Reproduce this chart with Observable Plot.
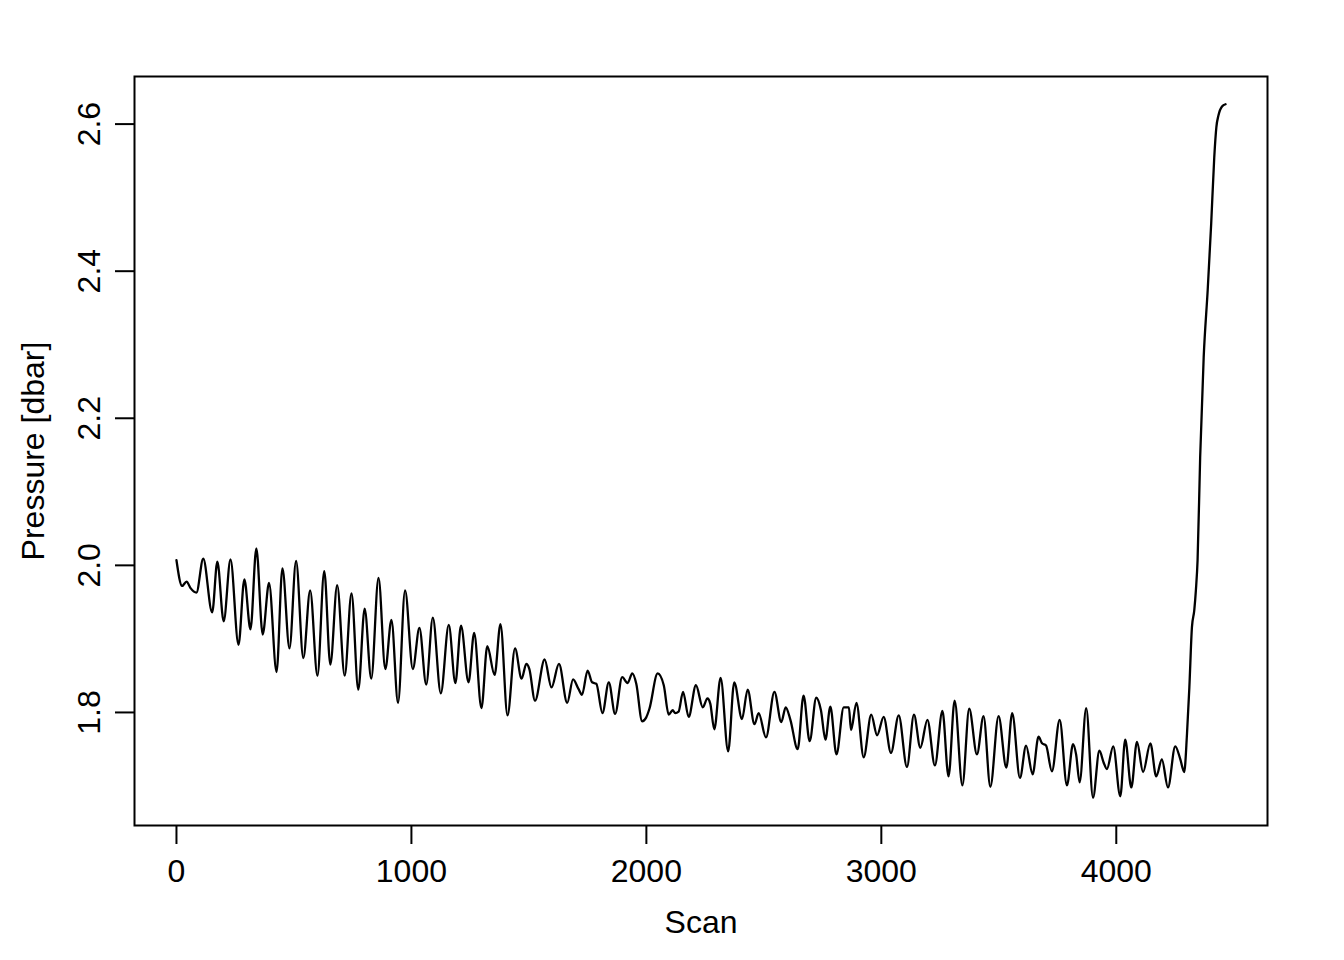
<!DOCTYPE html>
<html>
<head>
<meta charset="utf-8">
<script src="https://cdn.jsdelivr.net/npm/d3@7"></script>
<script src="https://cdn.jsdelivr.net/npm/@observablehq/plot@0.6"></script>
<style>
  html, body { margin: 0; padding: 0; background: #fff; }
</style>
</head>
<body>
<div id="chart"></div>
<script>
// Scan index and pressure [dbar]
const scan = [
  0, 24, 43, 60, 85, 114, 152, 174, 201, 230, 264, 289, 315, 340, 367, 394, 426, 451, 481, 509,
  540, 569, 600, 629, 655, 684, 716, 745, 774, 801, 829, 860, 889, 915, 943, 973, 1006, 1034, 1063, 1091,
  1125, 1159, 1187, 1211, 1243, 1267, 1298, 1323, 1354, 1379, 1409, 1441, 1469, 1489, 1502, 1526, 1567, 1596, 1628, 1663,
  1688, 1711, 1726, 1750, 1769, 1787, 1813, 1840, 1867, 1897, 1920, 1940, 1957, 1982, 1999, 2013, 2048, 2074, 2095, 2112,
  2123, 2137, 2156, 2180, 2211, 2240, 2260, 2272, 2289, 2316, 2348, 2374, 2407, 2431, 2460, 2478, 2509, 2545, 2574, 2593,
  2613, 2644, 2669, 2695, 2723, 2743, 2762, 2783, 2809, 2840, 2862, 2871, 2894, 2925, 2957, 2982, 3010, 3041, 3074, 3109,
  3139, 3166, 3196, 3228, 3260, 3286, 3312, 3345, 3374, 3407, 3435, 3464, 3499, 3532, 3557, 3590, 3616, 3644, 3669, 3684,
  3701, 3726, 3759, 3790, 3816, 3829, 3844, 3872, 3901, 3928, 3946, 3960, 3987, 4017, 4038, 4064, 4088, 4114, 4145, 4170,
  4194, 4220, 4251, 4272, 4289, 4301, 4311, 4322, 4332, 4339, 4346, 4357, 4372, 4389, 4404, 4417, 4426, 4435, 4450, 4465
];
const pressure = [
  2.007, 1.972, 1.978, 1.969, 1.963, 2.009, 1.936, 2.005, 1.924, 2.008, 1.892, 1.981, 1.913, 2.023, 1.906, 1.976, 1.855, 1.996, 1.887, 2.006,
  1.874, 1.966, 1.850, 1.992, 1.865, 1.973, 1.850, 1.962, 1.831, 1.941, 1.846, 1.983, 1.859, 1.926, 1.813, 1.966, 1.859, 1.915, 1.838, 1.929,
  1.826, 1.919, 1.840, 1.918, 1.841, 1.908, 1.806, 1.890, 1.851, 1.920, 1.796, 1.887, 1.846, 1.866, 1.859, 1.816, 1.872, 1.834, 1.866, 1.813,
  1.845, 1.832, 1.824, 1.857, 1.841, 1.839, 1.799, 1.841, 1.798, 1.848, 1.840, 1.853, 1.839, 1.788, 1.793, 1.805, 1.853, 1.837, 1.797, 1.803,
  1.799, 1.801, 1.828, 1.794, 1.837, 1.807, 1.819, 1.812, 1.777, 1.847, 1.747, 1.841, 1.791, 1.831, 1.784, 1.799, 1.766, 1.828, 1.787, 1.807,
  1.790, 1.750, 1.823, 1.761, 1.820, 1.803, 1.763, 1.808, 1.743, 1.807, 1.807, 1.776, 1.813, 1.739, 1.797, 1.769, 1.794, 1.745, 1.796, 1.726,
  1.797, 1.752, 1.790, 1.728, 1.802, 1.713, 1.816, 1.701, 1.805, 1.743, 1.795, 1.699, 1.795, 1.725, 1.799, 1.711, 1.755, 1.716, 1.767, 1.758,
  1.755, 1.720, 1.790, 1.701, 1.757, 1.743, 1.705, 1.806, 1.684, 1.748, 1.732, 1.723, 1.754, 1.686, 1.763, 1.698, 1.760, 1.719, 1.758, 1.713,
  1.736, 1.698, 1.754, 1.737, 1.719, 1.771, 1.834, 1.916, 1.939, 1.967, 2.007, 2.147, 2.283, 2.374, 2.465, 2.555, 2.596, 2.612, 2.624, 2.627
];
const xTicks = [0, 1000, 2000, 3000, 4000];
const yTicks = [1.8, 2.0, 2.2, 2.4, 2.6];
const xLabel = "Scan";
const yLabel = "Pressure [dbar]";

const data = scan.map((s, i) => ({scan: s, pressure: pressure[i]}));

// R-style 4% range extension
function extend([lo, hi]) { const p = (hi - lo) * 0.04; return [lo - p, hi + p]; }
const xDomain = extend(d3.extent(scan));
const yDomain = extend(d3.extent(pressure));

const chart = Plot.plot({
  width: 1344,
  height: 960,
  marginLeft: 134,
  marginRight: 77,
  marginTop: 76,
  marginBottom: 135,
  x: {domain: xDomain},
  y: {domain: yDomain},
  style: {fontFamily: "'Liberation Sans', Arial, Helvetica, sans-serif", fontSize: "32px", background: "#fff", color: "#000"},
  marks: [
    Plot.frame({stroke: "#000", strokeWidth: 2}),
    Plot.line(data, {x: "scan", y: "pressure", curve: "monotone-x", stroke: "#000", strokeWidth: 2.3}),
    Plot.axisX(xTicks, {tickSize: 19, tickPadding: 15, strokeWidth: 2, label: null, fontSize: 32, tickFormat: d => String(d)}),
    Plot.axisY(yTicks, {tickSize: 19, tickPadding: 26, strokeWidth: 2, tickRotate: -90, textAnchor: "middle", lineAnchor: "middle", label: null, fontSize: 32, tickFormat: d => d.toFixed(1)}),
    Plot.text([xLabel], {text: d => d, frameAnchor: "bottom", dy: 97, lineAnchor: "middle", fontSize: 32}),
    Plot.text([yLabel], {text: d => d, frameAnchor: "left", dx: -101, rotate: -90, textAnchor: "middle", lineAnchor: "middle", fontSize: 32})
  ]
});
document.getElementById("chart").appendChild(chart);
</script>
</body>
</html>
